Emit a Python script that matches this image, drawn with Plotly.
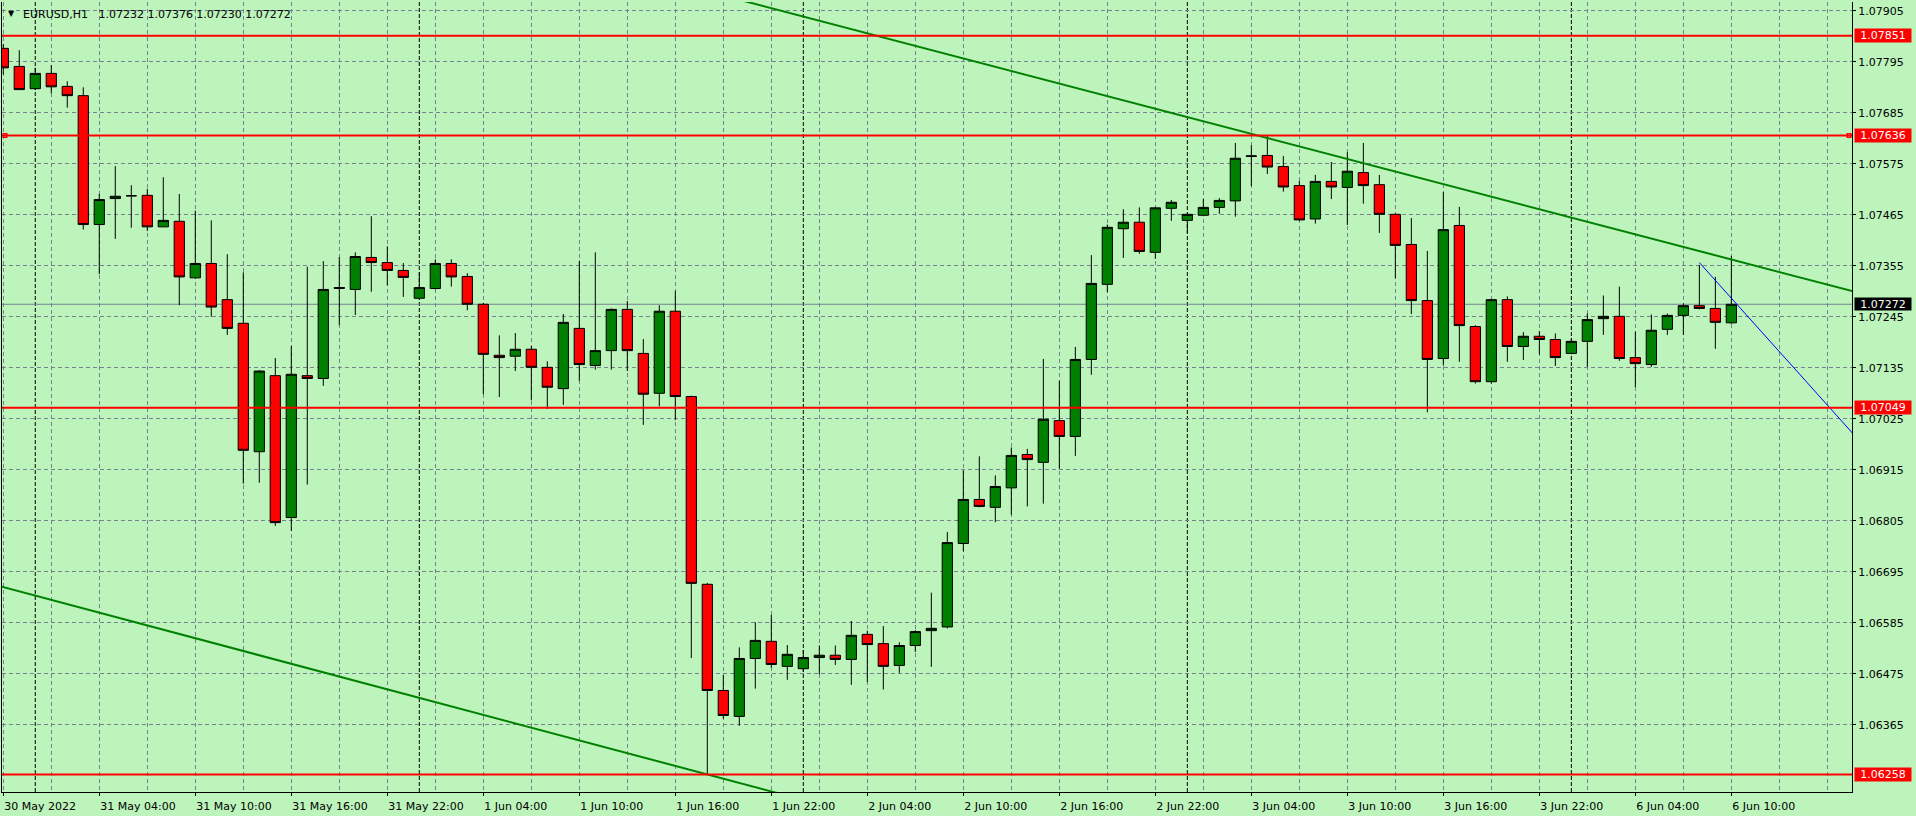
import plotly.graph_objects as go
import pandas as pd

# ---------------- data (EURUSD H1) ----------------
opens = [1.07824, 1.07785, 1.07737, 1.07770, 1.07742, 1.07722, 1.07444, 1.07500, 1.07506, 1.07507,
         1.07439, 1.07451, 1.07329, 1.07360, 1.07282, 1.07231, 1.06954, 1.07118, 1.06812, 1.07118,
         1.07112, 1.07306, 1.07304, 1.07373, 1.07362, 1.07345, 1.07285, 1.07306, 1.07360, 1.07332,
         1.07272, 1.07162, 1.07160, 1.07175, 1.07136, 1.07090, 1.07220, 1.07140, 1.07172, 1.07261,
         1.07166, 1.07080, 1.07257, 1.07073, 1.06668, 1.06439, 1.06383, 1.06508, 1.06545, 1.06491,
         1.06486, 1.06510, 1.06515, 1.06506, 1.06560, 1.06540, 1.06493, 1.06536, 1.06568, 1.06576,
         1.06756, 1.06851, 1.06834, 1.06876, 1.06948, 1.06931, 1.07021, 1.06987, 1.07153, 1.07315,
         1.07435, 1.07449, 1.07384, 1.07479, 1.07453, 1.07464, 1.07481, 1.07495, 1.07591, 1.07593,
         1.07569, 1.07528, 1.07456, 1.07537, 1.07524, 1.07556, 1.07530, 1.07466, 1.07401, 1.07280,
         1.07155, 1.07442, 1.07224, 1.07105, 1.07282, 1.07181, 1.07203, 1.07196, 1.07166, 1.07192,
         1.07241, 1.07246, 1.07157, 1.07142, 1.07218, 1.07248, 1.07269, 1.07263, 1.07232]
highs = [1.07833, 1.07820, 1.07782, 1.07788, 1.07753, 1.07740, 1.07510, 1.07570, 1.07529, 1.07521,
         1.07546, 1.07510, 1.07474, 1.07453, 1.07380, 1.07341, 1.07130, 1.07156, 1.07182, 1.07353,
         1.07365, 1.07374, 1.07384, 1.07462, 1.07397, 1.07361, 1.07341, 1.07369, 1.07369, 1.07339,
         1.07275, 1.07205, 1.07210, 1.07182, 1.07149, 1.07251, 1.07366, 1.07384, 1.07263, 1.07279,
         1.07197, 1.07270, 1.07301, 1.07075, 1.06671, 1.06472, 1.06532, 1.06586, 1.06602, 1.06537,
         1.06526, 1.06536, 1.06536, 1.06589, 1.06568, 1.06578, 1.06543, 1.06569, 1.06650, 1.06781,
         1.06914, 1.06944, 1.06903, 1.06963, 1.06960, 1.07154, 1.07107, 1.07180, 1.07378, 1.07444,
         1.07477, 1.07481, 1.07482, 1.07497, 1.07468, 1.07499, 1.07501, 1.07620, 1.07615, 1.07636,
         1.07592, 1.07538, 1.07551, 1.07579, 1.07600, 1.07620, 1.07551, 1.07468, 1.07458, 1.07387,
         1.07514, 1.07482, 1.07227, 1.07284, 1.07289, 1.07212, 1.07214, 1.07209, 1.07198, 1.07252,
         1.07291, 1.07310, 1.07213, 1.07250, 1.07252, 1.07274, 1.07357, 1.07331, 1.07376]
lows = [1.07768, 1.07734, 1.07734, 1.07727, 1.07696, 1.07433, 1.07337, 1.07413, 1.07437, 1.07430,
        1.07439, 1.07270, 1.07327, 1.07245, 1.07206, 1.06885, 1.06887, 1.06794, 1.06783, 1.06883,
        1.07096, 1.07227, 1.07249, 1.07299, 1.07313, 1.07288, 1.07282, 1.07304, 1.07310, 1.07259,
        1.07078, 1.07072, 1.07128, 1.07065, 1.07046, 1.07055, 1.07107, 1.07131, 1.07131, 1.07128,
        1.07012, 1.07052, 1.07022, 1.06509, 1.06258, 1.06378, 1.06363, 1.06443, 1.06488, 1.06462,
        1.06479, 1.06474, 1.06494, 1.06451, 1.06457, 1.06441, 1.06477, 1.06522, 1.06490, 1.06573,
        1.06739, 1.06834, 1.06802, 1.06818, 1.06836, 1.06842, 1.06917, 1.06945, 1.07120, 1.07298,
        1.07372, 1.07381, 1.07370, 1.07452, 1.07426, 1.07462, 1.07467, 1.07461, 1.07527, 1.07553,
        1.07515, 1.07452, 1.07446, 1.07499, 1.07443, 1.07489, 1.07426, 1.07328, 1.07251, 1.07039,
        1.07140, 1.07148, 1.07101, 1.07101, 1.07148, 1.07152, 1.07164, 1.07139, 1.07164, 1.07137,
        1.07206, 1.07150, 1.07093, 1.07137, 1.07206, 1.07206, 1.07261, 1.07176, 1.07230]
closes = [1.07782, 1.07735, 1.07770, 1.07741, 1.07722, 1.07444, 1.07498, 1.07505, 1.07506, 1.07439,
          1.07453, 1.07331, 1.07360, 1.07266, 1.07220, 1.06957, 1.07128, 1.06801, 1.07121, 1.07112,
          1.07304, 1.07308, 1.07375, 1.07362, 1.07345, 1.07330, 1.07308, 1.07360, 1.07331, 1.07272,
          1.07164, 1.07157, 1.07175, 1.07136, 1.07093, 1.07233, 1.07142, 1.07172, 1.07261, 1.07172,
          1.07078, 1.07257, 1.07073, 1.06670, 1.06439, 1.06385, 1.06508, 1.06547, 1.06495, 1.06517,
          1.06510, 1.06515, 1.06506, 1.06558, 1.06538, 1.06491, 1.06536, 1.06566, 1.06573, 1.06758,
          1.06851, 1.06836, 1.06879, 1.06946, 1.06937, 1.07024, 1.06987, 1.07153, 1.07317, 1.07438,
          1.07449, 1.07386, 1.07480, 1.07492, 1.07466, 1.07481, 1.07496, 1.07587, 1.07592, 1.07568,
          1.07525, 1.07454, 1.07537, 1.07525, 1.07559, 1.07528, 1.07466, 1.07399, 1.07280, 1.07153,
          1.07433, 1.07226, 1.07105, 1.07282, 1.07181, 1.07203, 1.07196, 1.07157, 1.07192, 1.07239,
          1.07246, 1.07155, 1.07144, 1.07216, 1.07248, 1.07269, 1.07263, 1.07233, 1.07272]

# bar times (weekdays only, hourly)
all_hours = pd.date_range("2022-05-30 22:00", "2022-06-06 10:00", freq="h")
times = [t for t in all_hours if t.weekday() < 5]
bars = list(range(len(times)))

x_tick_labels = ["30 May 2022", "31 May 04:00", "31 May 10:00", "31 May 16:00", "31 May 22:00",
                 "1 Jun 04:00", "1 Jun 10:00", "1 Jun 16:00", "1 Jun 22:00", "2 Jun 04:00",
                 "2 Jun 10:00", "2 Jun 16:00", "2 Jun 22:00", "3 Jun 04:00", "3 Jun 10:00",
                 "3 Jun 16:00", "3 Jun 22:00", "6 Jun 04:00", "6 Jun 10:00"]
x_tick_step = 6
x_grid_step = 3

y_tick_values = [1.07905, 1.07795, 1.07685, 1.07575, 1.07465, 1.07355, 1.07245, 1.07135,
                 1.07025, 1.06915, 1.06805, 1.06695, 1.06585, 1.06475, 1.06365]

level_lines = [1.07851, 1.07636, 1.07049, 1.06258]
selected_level = 1.07636
bid_price = 1.07272
title_text = "EURUSD,H1\u00a0\u00a0 1.07232 1.07376 1.07230 1.07272"

upper_trend_bars = [40.0, 115.6]
upper_trend_prices = [1.07983, 1.07300]
lower_trend_bars = [-1.0, 49.0]
lower_trend_prices = [1.06671, 1.06212]
blue_trend_bars = [106.0, 115.6]
blue_trend_prices = [1.07362, 1.06993]

# ---------------- style ----------------
BG = "#BDF4BB"
GRID = "#75828F"
FONT = "DejaVu Sans"
X_RANGE = [-0.08, 115.54]
Y_RANGE = [1.06220, 1.07924]

fig = go.Figure()

fig.add_trace(go.Candlestick(
    x=bars, open=opens, high=highs, low=lows, close=closes,
    increasing=dict(fillcolor="#008000", line=dict(color="black", width=1)),
    decreasing=dict(fillcolor="#FF0000", line=dict(color="black", width=1)),
    whiskerwidth=0, showlegend=False, hoverinfo="skip",
))

# trend lines
fig.add_trace(go.Scatter(x=upper_trend_bars, y=upper_trend_prices, mode="lines",
                         line=dict(color="#008000", width=2), showlegend=False, hoverinfo="skip"))
fig.add_trace(go.Scatter(x=lower_trend_bars, y=lower_trend_prices, mode="lines",
                         line=dict(color="#008000", width=2), showlegend=False, hoverinfo="skip"))
fig.add_trace(go.Scatter(x=blue_trend_bars, y=blue_trend_prices, mode="lines",
                         line=dict(color="#0000FF", width=1), showlegend=False, hoverinfo="skip"))

# selection handles on the selected horizontal line
px_per_bar = 1850 / (X_RANGE[1] - X_RANGE[0])
fig.add_trace(go.Scatter(
    x=[X_RANGE[0] + 3 / px_per_bar, X_RANGE[1] - 3 / px_per_bar],
    y=[selected_level, selected_level], mode="markers",
    marker=dict(symbol="square", size=3.5, color="white", line=dict(color="#FF0000", width=1.5)),
    showlegend=False, hoverinfo="skip", cliponaxis=False))

shapes = []
# day separators
for i, t in enumerate(times):
    if t.hour == 0:
        shapes.append(dict(type="line", xref="x", yref="paper", x0=i, x1=i, y0=0, y1=1,
                           line=dict(color="black", width=1, dash="4px,2px"), layer="below"))
# bid line
shapes.append(dict(type="line", xref="paper", yref="y", x0=0, x1=1, y0=bid_price, y1=bid_price,
                   line=dict(color=GRID, width=1), layer="below"))
# horizontal levels
for lv in level_lines:
    shapes.append(dict(type="line", xref="paper", yref="y", x0=0, x1=1, y0=lv, y1=lv,
                       line=dict(color="#FF0000", width=2), layer="above"))

annotations = []
for lv in level_lines:
    annotations.append(dict(x=1, xref="paper", y=lv, yref="y", xanchor="left", yanchor="middle",
                            xshift=1.5, text=f"{lv:.5f}", showarrow=False,
                            font=dict(family=FONT, size=11, color="white"),
                            bgcolor="#FF0000", width=54, height=11, borderpad=1, align="center"))
annotations.append(dict(x=1, xref="paper", y=bid_price, yref="y", xanchor="left", yanchor="middle",
                        xshift=1.5, text=f"{bid_price:.5f}", showarrow=False,
                        font=dict(family=FONT, size=11, color="white"),
                        bgcolor="black", width=54, height=10, borderpad=1, align="center"))
# title
annotations.append(dict(x=(20.5 - 2) / 1850, xref="paper", y=(792 - 14.5) / 790, yref="paper",
                        xanchor="left", yanchor="middle", text=title_text, showarrow=False,
                        font=dict(family=FONT, size=11, color="black")))
annotations.append(dict(x=(11 - 2) / 1850, xref="paper", y=(792 - 14) / 790, yref="paper",
                        xanchor="center", yanchor="middle", text="\u25BC", showarrow=False,
                        font=dict(family=FONT, size=8, color="black")))

fig.update_layout(
    width=1916, height=816,
    margin=dict(l=2, r=64, t=2, b=24),
    paper_bgcolor=BG, plot_bgcolor=BG,
    showlegend=False,
    shapes=shapes, annotations=annotations,
    boxgap=0.36, boxgroupgap=0,
    xaxis=dict(
        range=X_RANGE, tickmode="array",
        tickvals=bars[::x_tick_step], ticktext=x_tick_labels,
        ticks="outside", ticklen=3, tickcolor="black",
        ticklabelposition="outside right", ticklabelstandoff=4,
        tickfont=dict(family=FONT, size=11, color="black"),
        showgrid=True, gridcolor=GRID, griddash="4px,3px", gridwidth=1,
        minor=dict(tickmode="array", tickvals=list(range(0, 116, x_grid_step)), showgrid=True,
                   gridcolor=GRID, griddash="4px,3px", gridwidth=1, ticks=""),
        showline=True, linecolor="black", linewidth=1, mirror=False,
        zeroline=False, rangeslider=dict(visible=False), fixedrange=True,
    ),
    yaxis=dict(
        range=Y_RANGE, side="right", tickmode="array",
        tickvals=y_tick_values, ticktext=[f"{v:.5f}" for v in y_tick_values],
        ticks="outside", ticklen=3, tickcolor="black",
        tickfont=dict(family=FONT, size=11, color="black"),
        showgrid=True, gridcolor=GRID, griddash="4px,3px", gridwidth=1,
        showline=True, linecolor="black", linewidth=1, mirror=True,
        zeroline=False, fixedrange=True,
    ),
)

fig.write_html(
    "out.html",
    config={"displayModeBar": False},
    post_script="document.body.style.margin='0';document.body.style.overflow='hidden';"
                "document.body.style.background='" + BG + "';",
)
